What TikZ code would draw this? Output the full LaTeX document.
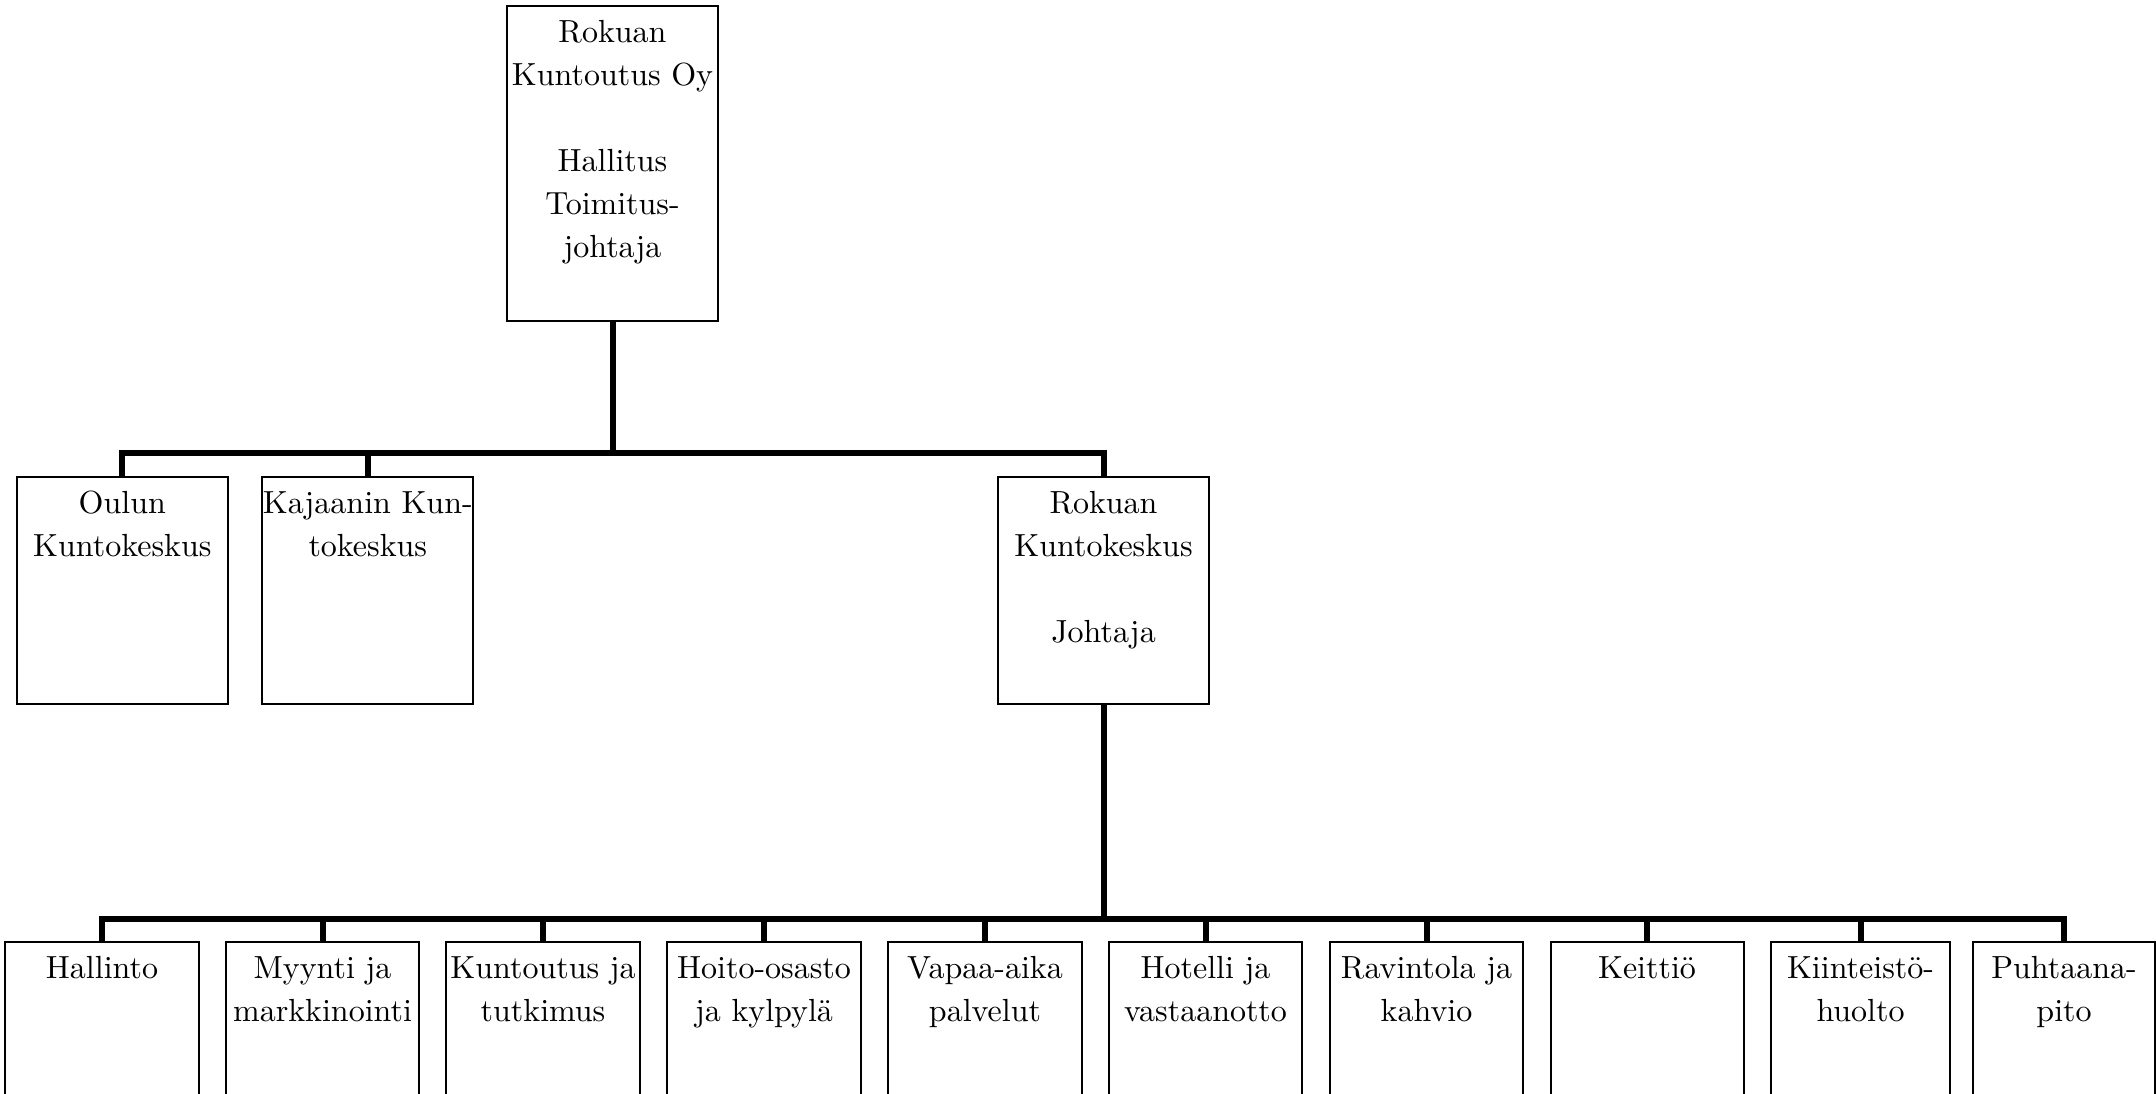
\documentclass[tikz,border=0pt]{standalone}
\usepackage{fontspec}
\setmainfont{lmroman10-regular}[Extension=.otf]
\usetikzlibrary{calc}
\begin{document}
\begin{tikzpicture}[x=0.5pt,y=-0.5pt,
  box/.style={draw,line width=1pt,rectangle,inner sep=0pt},
  txt/.style={align=center,inner sep=0pt,anchor=north,font=\fontsize{16}{21.5}\selectfont},
  conn/.style={line width=3pt}]
\useasboundingbox (0,0) rectangle (2156,1093);
\clip (0,0) rectangle (2156,1093);

% top level
\node[box,minimum width=105.5pt,minimum height=157.5pt] (top) at (612.5,163.5) {};
\node[txt] (topT) at ($(top.north)+(0,7)$) {\strut Rokuan\\Kuntoutus Oy\\[21.5pt]Hallitus\\Toimitus-\\johtaja};

% second level
\node[box,minimum width=105.5pt,minimum height=113.5pt] (oulu) at (122.3,590.5) {};
\node[txt] (ouluT) at ($(oulu.north)+(0,7)$) {\strut Oulun\\Kuntokeskus};
\node[box,minimum width=105.5pt,minimum height=113.5pt] (kaj) at (367.8,590.5) {};
\node[txt] (kajT) at ($(kaj.north)+(0,7)$) {\strut Kajaanin Kun-\\tokeskus};
\node[box,minimum width=105.2pt,minimum height=113.5pt] (rkk) at (1103.5,590.5) {};
\node[txt] (rkkT) at ($(rkk.north)+(0,7)$) {\strut Rokuan\\Kuntokeskus\\[21.5pt]Johtaja};

% third level
\node[box,minimum width=97pt,minimum height=100pt] (b1) at (102,1042) {};
\node[box,minimum width=96.5pt,minimum height=100pt] (b2) at (322.5,1042) {};
\node[box,minimum width=97pt,minimum height=100pt] (b3) at (543,1042) {};
\node[box,minimum width=97pt,minimum height=100pt] (b4) at (764,1042) {};
\node[box,minimum width=97pt,minimum height=100pt] (b5) at (985,1042) {};
\node[box,minimum width=96.5pt,minimum height=100pt] (b6) at (1205.5,1042) {};
\node[box,minimum width=96.5pt,minimum height=100pt] (b7) at (1426.5,1042) {};
\node[box,minimum width=96.5pt,minimum height=100pt] (b8) at (1647,1042) {};
\node[box,minimum width=89.5pt,minimum height=100pt] (b9) at (1860.5,1042) {};
\node[box,minimum width=91pt,minimum height=100pt] (b10) at (2064,1042) {};

\node[txt] (b1T) at ($(b1.north)+(0,7)$) {\strut Hallinto};
\node[txt] (b2T) at ($(b2.north)+(0,7)$) {\strut Myynti ja\\markkinointi};
\node[txt] (b3T) at ($(b3.north)+(0,7)$) {\strut Kuntoutus ja\\tutkimus};
\node[txt] (b4T) at ($(b4.north)+(0,7)$) {\strut Hoito-osasto\\ja kylpylä};
\node[txt] (b5T) at ($(b5.north)+(0,7)$) {\strut Vapaa-aika\\palvelut};
\node[txt] (b6T) at ($(b6.north)+(0,7)$) {\strut Hotelli ja\\vastaanotto};
\node[txt] (b7T) at ($(b7.north)+(0,7)$) {\strut Ravintola ja\\kahvio};
\node[txt] (b8T) at ($(b8.north)+(0,7)$) {\strut Keittiö};
\node[txt] (b9T) at ($(b9.north)+(0,7)$) {\strut Kiinteistö-\\huolto};
\node[txt] (b10T) at ($(b10.north)+(0,7)$) {\strut Puhtaana-\\pito};

% connectors level 1
\coordinate (bar1) at (612.5,453.3);
\draw[conn] (top.south) -- (top.south |- bar1);
\draw[conn] (oulu.north) -- (oulu.north |- bar1) -- (rkk.north |- bar1) -- (rkk.north);
\draw[conn] (kaj.north) -- (kaj.north |- bar1);

% connectors level 2
\coordinate (bar2) at (1103.5,919);
\draw[conn] (rkk.south) -- (rkk.south |- bar2);
\draw[conn] (b1.north) -- (b1.north |- bar2) -- (b10.north |- bar2) -- (b10.north);
\foreach \n in {b2,b3,b4,b5,b6,b7,b8,b9}
  \draw[conn] (\n.north) -- (\n.north |- bar2);
\end{tikzpicture}
\end{document}
